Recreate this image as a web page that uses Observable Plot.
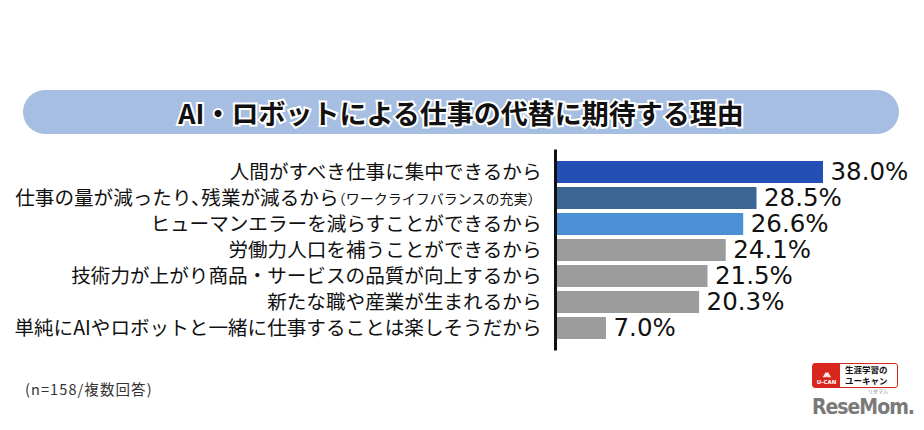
<!DOCTYPE html>
<html><head><meta charset="utf-8">
<script src="https://cdn.jsdelivr.net/npm/d3@7"></script>
<script src="https://cdn.jsdelivr.net/npm/@observablehq/plot@0.6"></script>
<style>
body{margin:0;background:#fff;}
#wrap{position:relative;width:924px;height:430px;overflow:hidden;background:#fff;font-family:"Noto Sans CJK JP",sans-serif;}
#title{position:absolute;left:23px;top:90px;width:876px;height:44px;border-radius:22px;background:#a5bee2;display:flex;align-items:center;justify-content:center;font-size:27px;font-weight:bold;color:#111;}
#title span{paint-order:stroke fill;-webkit-text-stroke:4px #fff;}
#chart{position:absolute;left:0;top:145px;}
#note{position:absolute;left:25px;top:378px;font-size:14.5px;letter-spacing:1.1px;color:#333;}
#ucan{position:absolute;left:812px;top:363px;width:84px;height:23px;border:1.5px solid #d9261c;border-radius:3px;display:flex;background:#fff;}
#ucan .l{width:27px;background:#d9261c;color:#fff;font-family:"DejaVu Sans";font-weight:bold;font-size:5.5px;line-height:6px;display:flex;flex-direction:column;align-items:center;justify-content:flex-end;padding-bottom:2px;box-sizing:border-box;}
#ucan .l b{font-size:10px;line-height:11px;}
#ucan .r{font-size:8.5px;line-height:11px;padding-left:5px;padding-top:0px;color:#111;font-weight:bold;}
#rm{position:absolute;left:812px;top:395px;font-family:"DejaVu Sans";font-weight:bold;font-size:22px;line-height:23px;color:#7a7a7a;letter-spacing:-1.2px;transform:scaleX(0.86);transform-origin:left;}
#rmk{position:absolute;left:868px;top:388px;font-size:5px;line-height:6px;color:#888;}
</style>
</head><body>
<div id="wrap">
  <div id="title"><span>AI・ロボットによる仕事の代替に期待する理由</span></div>
  <div id="chart"></div>
  <div id="note">(n=158/複数回答)</div>
  <div id="ucan"><div class="l"><b>⩕</b>U-CAN</div><div class="r">生涯学習の<br>ユーキャン</div></div>
  <div id="rm">ReseMom.</div>
  <div id="rmk">リセマム</div>
</div>
<script>
const categories = [
  "人間がすべき仕事に集中できるから",
  "仕事の量が減ったり､残業が減るから",
  "ヒューマンエラーを減らすことができるから",
  "労働力人口を補うことができるから",
  "技術力が上がり商品・サービスの品質が向上するから",
  "新たな職や産業が生まれるから",
  "単純にAIやロボットと一緒に仕事することは楽しそうだから"
];
const labelNotes = ["", "（ワークライフバランスの充実）", "", "", "", "", ""];
const values = [38.0, 28.5, 26.6, 24.1, 21.5, 20.3, 7.0];
const valueLabels = ["38.0%", "28.5%", "26.6%", "24.1%", "21.5%", "20.3%", "7.0%"];
const barColors = ["#2450b6", "#3b6593", "#4b8fd4", "#9c9c9c", "#9c9c9c", "#9c9c9c", "#9c9c9c"];

const data = categories.map((c, i) => ({label: c, note: labelNotes[i], value: values[i], text: valueLabels[i], color: barColors[i]}));
const plain = data.filter(d => !d.note);
const noted = data.filter(d => d.note);

const chart = Plot.plot({
  width: 924,
  height: 210,
  marginLeft: 557,
  marginRight: 101,
  marginTop: 10.5,
  marginBottom: 10.5,
  style: {fontFamily: "'Noto Sans CJK JP', sans-serif", background: "transparent", color: "#111"},
  x: {domain: [0, 38], axis: null},
  y: {domain: categories, axis: null, padding: 0.15},
  color: {type: "identity"},
  marks: [
    Plot.barX(data, {x: "value", y: "label", fill: "color"}),
    Plot.ruleX([0], {stroke: "#111", strokeWidth: 3, dx: -2, insetTop: -6, insetBottom: -6}),
    Plot.text(plain, {x: 0, y: "label", text: "label", textAnchor: "end", dx: -16, fontSize: 19.6, fill: "#111"}),
    Plot.text(noted, {x: 0, y: "label", text: "label", textAnchor: "end", dx: -219, fontSize: 19.6, fill: "#111"}),
    Plot.text(noted, {x: 0, y: "label", text: "note", textAnchor: "end", dx: -16, dy: 1.5, fontSize: 14, fill: "#111"}),
    Plot.text(data, {x: "value", y: "label", text: "text", textAnchor: "start", dx: 7, fontSize: 24.5, fill: "#111", fontFamily: "'DejaVu Sans', sans-serif"})
  ]
});
document.getElementById("chart").appendChild(chart);
</script>
</body></html>
